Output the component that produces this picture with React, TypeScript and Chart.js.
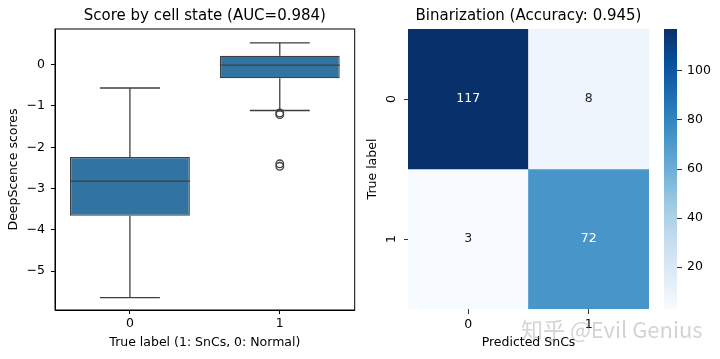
import React, { useEffect, useRef } from 'react';
import { Chart, registerables } from 'chart.js';

Chart.register(...registerables);

// ---------- data ----------
const boxCategories = ['0', '1'];
const boxQ1 = [-3.66, -0.33];
const boxMedian = [-2.82, -0.01];
const boxQ3 = [-2.235, 0.218];
const whiskerLow = [-5.64, -1.11];
const whiskerHigh = [-0.565, 0.53];
const outlierCategory = ['1', '1', '1', '1'];
const outlierValues = [-1.17, -1.21, -2.4, -2.46];
const boxYTicks = [0, -1, -2, -3, -4, -5];

const predLabels = ['0', '1'];
const trueLabels = ['0', '1'];
const cmRow0 = [117, 8];
const cmRow1 = [3, 72];
const colorbarTicks = [20, 40, 60, 80, 100];

const leftTitle = 'Score by cell state (AUC=0.984)';
const rightTitle = 'Binarization (Accuracy: 0.945)';

// ---------- styles ----------
const FAMILY = "'DejaVu Sans', sans-serif";
const tickFont = { family: FAMILY, size: 12.5 };
const titleFontStr = `15px ${FAMILY}`;
const BOX_FILL = '#3274a1';
const LINE = '#3f3f3f';

const BLUES = ['#f7fbff', '#deebf7', '#c6dbef', '#9ecae1', '#6baed6', '#4292c6', '#2171b5', '#08519c', '#08306b'];

function hexToRgb(h: string) {
  const n = parseInt(h.slice(1), 16);
  return [(n >> 16) & 255, (n >> 8) & 255, n & 255];
}
function blues(t: number) {
  const tt = Math.max(0, Math.min(1, t)) * (BLUES.length - 1);
  const i = Math.min(BLUES.length - 2, Math.floor(tt));
  const f = tt - i;
  const a = hexToRgb(BLUES[i]);
  const b = hexToRgb(BLUES[i + 1]);
  const c = a.map((v, k) => Math.round(v + (b[k] - v) * f));
  return `rgb(${c[0]},${c[1]},${c[2]})`;
}

const cm = [cmRow0, cmRow1];
const vmin = Math.min(...cmRow0, ...cmRow1);
const vmax = Math.max(...cmRow0, ...cmRow1);
const norm = (v: number) => (v - vmin) / (vmax - vmin);

const fmtMinus = (v: number) => (v < 0 ? '\u2212' + Math.abs(v) : String(v));

function drawPanelTitle(chart: any, text: string) {
  const { ctx, chartArea } = chart;
  ctx.save();
  ctx.font = titleFontStr;
  ctx.fillStyle = '#000';
  ctx.textAlign = 'center';
  ctx.textBaseline = 'middle';
  ctx.fillText(text, (chartArea.left + chartArea.right) / 2, 16);
  ctx.restore();
}

export default function App() {
  const boxRef = useRef<HTMLCanvasElement>(null);
  const heatRef = useRef<HTMLCanvasElement>(null);
  const cbarRef = useRef<HTMLCanvasElement>(null);

  useEffect(() => {
    const boxPlugin = {
      id: 'boxExtras',
      afterDatasetsDraw(chart: any) {
        const { ctx, chartArea, scales } = chart;
        const x = scales.x;
        const y = scales.y;
        const meta = chart.getDatasetMeta(0);
        ctx.save();
        ctx.lineWidth = 1.3;
        ctx.strokeStyle = LINE;
        const seg = (x1: number, y1: number, x2: number, y2: number) => {
          ctx.beginPath();
          ctx.moveTo(x1, y1);
          ctx.lineTo(x2, y2);
          ctx.stroke();
        };
        boxCategories.forEach((_, i) => {
          const bar = meta.data[i];
          const cx = x.getPixelForValue(i);
          const half = bar.width / 2;
          const yHi = y.getPixelForValue(whiskerHigh[i]);
          const yLo = y.getPixelForValue(whiskerLow[i]);
          seg(cx, y.getPixelForValue(boxQ3[i]), cx, yHi);
          seg(cx, y.getPixelForValue(boxQ1[i]), cx, yLo);
          seg(cx - half / 2, yHi, cx + half / 2, yHi);
          seg(cx - half / 2, yLo, cx + half / 2, yLo);
          const ym = y.getPixelForValue(boxMedian[i]);
          seg(cx - half, ym, cx + half, ym);
        });
        ctx.strokeStyle = '#000';
        ctx.lineWidth = 1;
        ctx.strokeRect(chartArea.left, chartArea.top, chartArea.right - chartArea.left, chartArea.bottom - chartArea.top);
        ctx.restore();
      },
      afterDraw(chart: any) {
        drawPanelTitle(chart, leftTitle);
      },
    };

    const boxChart = new Chart(boxRef.current as HTMLCanvasElement, {
      type: 'bar',
      data: {
        labels: boxCategories,
        datasets: [
          {
            type: 'bar',
            data: boxCategories.map((_, i) => [boxQ1[i], boxQ3[i]]) as any,
            backgroundColor: BOX_FILL,
            borderColor: LINE,
            borderWidth: 1.3,
            borderSkipped: false,
            barPercentage: 0.8,
            categoryPercentage: 1,
          } as any,
          {
            type: 'line',
            data: outlierValues.map((v, i) => ({ x: outlierCategory[i], y: v })) as any,
            showLine: false,
            pointRadius: 3.8,
            pointBorderColor: LINE,
            pointBackgroundColor: 'rgba(0,0,0,0)',
            pointBorderWidth: 1.3,
          } as any,
        ],
      },
      options: {
        responsive: false,
        animation: false,
        layout: { padding: { top: 29, right: 5, left: 0, bottom: 0 } },
        plugins: { legend: { display: false }, tooltip: { enabled: false }, title: { display: false } },
        scales: {
          x: {
            type: 'category',
            offset: true,
            grid: { display: true, offset: false, drawOnChartArea: false, drawTicks: true, tickLength: 4, color: '#000' },
            border: { display: true, color: '#000' },
            ticks: { padding: 2.5, font: tickFont, color: '#000' },
            title: {
              display: true,
              text: 'True label (1: SnCs, 0: Normal)',
              font: tickFont,
              color: '#000',
              padding: { top: 0, bottom: 8.5 },
            },
            afterFit: (s: any) => {
              s.height = 49;
            },
          },
          y: {
            type: 'linear',
            min: -5.94,
            max: 0.864,
            afterBuildTicks: (s: any) => {
              s.ticks = boxYTicks.map((v) => ({ value: v }));
            },
            grid: { display: true, drawOnChartArea: false, drawTicks: true, tickLength: 4, color: '#000' },
            border: { display: true, color: '#000' },
            ticks: { padding: 6, font: tickFont, color: '#000', callback: (v: any) => fmtMinus(Number(v)) },
            title: {
              display: true,
              text: 'DeepScence scores',
              font: tickFont,
              color: '#000',
              padding: { top: 6.5, bottom: 0 },
            },
            afterFit: (s: any) => {
              s.width = 55;
            },
          },
        },
      } as any,
      plugins: [boxPlugin],
    });

    const heatPlugin = {
      id: 'heatExtras',
      afterDatasetsDraw(chart: any) {
        const { ctx, chartArea, scales } = chart;
        const x = scales.x;
        const y = scales.y;
        ctx.save();
        ctx.font = `12.5px ${FAMILY}`;
        ctx.textAlign = 'center';
        ctx.textBaseline = 'middle';
        trueLabels.forEach((_, r) => {
          predLabels.forEach((__, c) => {
            const v = cm[r][c];
            ctx.fillStyle = norm(v) > 0.5 ? '#ffffff' : '#262626';
            ctx.fillText(String(v), x.getPixelForValue(c), y.getPixelForValue(r + 0.5));
          });
        });
        ctx.fillStyle = '#000';
        trueLabels.forEach((lab, r) => {
          ctx.save();
          ctx.translate(chartArea.left - 16, y.getPixelForValue(r + 0.5));
          ctx.rotate(-Math.PI / 2);
          ctx.fillText(lab, 0, 0);
          ctx.restore();
        });
        ctx.restore();
      },
      afterDraw(chart: any) {
        drawPanelTitle(chart, rightTitle);
      },
    };

    const heatChart = new Chart(heatRef.current as HTMLCanvasElement, {
      type: 'bar',
      data: {
        labels: predLabels,
        datasets: trueLabels.map((_, r) => ({
          data: predLabels.map(() => [r, r + 1]) as any,
          backgroundColor: predLabels.map((__, c) => blues(norm(cm[r][c]))),
          borderWidth: 0,
          grouped: false,
          barPercentage: 1,
          categoryPercentage: 1,
        })) as any,
      },
      options: {
        responsive: false,
        animation: false,
        layout: { padding: { top: 29, right: 0, left: 0, bottom: 0 } },
        plugins: { legend: { display: false }, tooltip: { enabled: false }, title: { display: false } },
        scales: {
          x: {
            type: 'category',
            offset: true,
            grid: { display: true, offset: false, drawOnChartArea: false, drawTicks: true, tickLength: 5, color: '#333' },
            border: { display: false },
            ticks: { padding: 3, font: tickFont, color: '#000' },
            title: {
              display: true,
              text: 'Predicted SnCs',
              font: tickFont,
              color: '#000',
              padding: { top: 0, bottom: 8.5 },
            },
            afterFit: (s: any) => {
              s.height = 50;
            },
          },
          y: {
            type: 'linear',
            min: 0,
            max: 2,
            reverse: true,
            afterBuildTicks: (s: any) => {
              s.ticks = trueLabels.map((_, i) => ({ value: i + 0.5 }));
            },
            grid: { display: true, drawOnChartArea: false, drawTicks: true, tickLength: 4, color: '#333' },
            border: { display: false },
            ticks: { padding: 4, font: tickFont, color: 'rgba(0,0,0,0)' },
            title: {
              display: true,
              text: 'True label',
              font: tickFont,
              color: '#000',
              padding: { top: 5.5, bottom: 0 },
            },
            afterFit: (s: any) => {
              s.width = 48;
            },
          },
        },
      } as any,
      plugins: [heatPlugin],
    });

    const cbarChart = new Chart(cbarRef.current as HTMLCanvasElement, {
      type: 'bar',
      data: {
        labels: [''],
        datasets: [
          {
            data: [[vmin, vmax]] as any,
            backgroundColor: (c: any) => {
              const chart = c.chart;
              const { ctx, chartArea, scales } = chart;
              if (!chartArea || !scales.y) return BLUES[4];
              const y0 = scales.y.getPixelForValue(vmin);
              const y1 = scales.y.getPixelForValue(vmax);
              const g = ctx.createLinearGradient(0, y0, 0, y1);
              for (let k = 0; k <= 40; k++) g.addColorStop(k / 40, blues(k / 40));
              return g;
            },
            borderWidth: 0,
            barPercentage: 1,
            categoryPercentage: 1,
          } as any,
        ],
      },
      options: {
        responsive: false,
        animation: false,
        layout: { padding: { top: 29, right: 0, left: 14, bottom: 50 } },
        plugins: { legend: { display: false }, tooltip: { enabled: false }, title: { display: false } },
        scales: {
          x: { display: false, offset: true },
          y: {
            type: 'linear',
            position: 'right',
            min: vmin,
            max: vmax,
            afterBuildTicks: (s: any) => {
              s.ticks = colorbarTicks.map((v) => ({ value: v }));
            },
            grid: { display: true, drawOnChartArea: false, drawTicks: true, tickLength: 5, color: '#333' },
            border: { display: false },
            ticks: { padding: 5, font: tickFont, color: '#000' },
            afterFit: (s: any) => {
              s.width = 43;
            },
          },
        },
      } as any,
    });

    return () => {
      boxChart.destroy();
      heatChart.destroy();
      cbarChart.destroy();
    };
  }, []);

  return (
    <div style={{ position: 'fixed', left: 0, top: 0, width: 720, height: 359, background: '#fff', overflow: 'hidden' }}>
      <canvas ref={boxRef} width={360} height={359} style={{ position: 'absolute', left: 0, top: 0, width: 360, height: 359 }} />
      <canvas ref={heatRef} width={289} height={359} style={{ position: 'absolute', left: 360, top: 0, width: 289, height: 359 }} />
      <canvas ref={cbarRef} width={70} height={359} style={{ position: 'absolute', left: 650, top: 0, width: 70, height: 359 }} />
      <div
        style={{
          position: 'absolute',
          left: 521,
          top: 317,
          fontFamily: "'Noto Sans CJK SC', sans-serif",
          fontSize: 22,
          lineHeight: '22px',
          color: 'rgba(150,150,150,0.42)',
          whiteSpace: 'nowrap',
        }}
      >
        知乎 @Evil Genius
      </div>
    </div>
  );
}
